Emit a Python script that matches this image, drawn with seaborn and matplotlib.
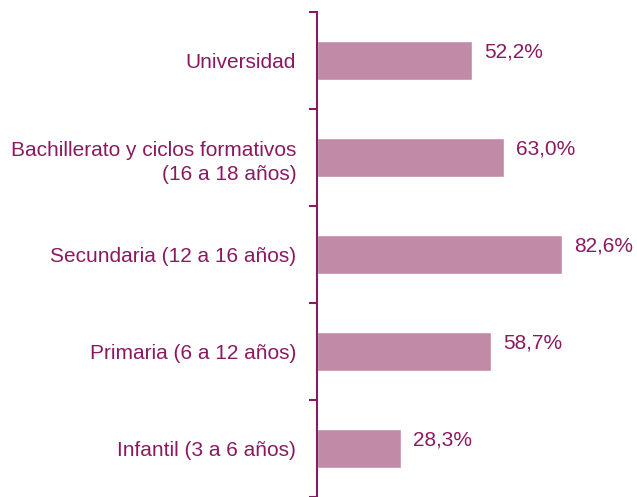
import numpy as np
import pandas as pd
import matplotlib
matplotlib.use("Agg")
import matplotlib.pyplot as plt
import seaborn as sns

categorias = ["Universidad",
              "Bachillerato y ciclos formativos\n(16 a 18 años)",
              "Secundaria (12 a 16 años)",
              "Primaria (6 a 12 años)",
              "Infantil (3 a 6 años)"]
valores = [52.2, 63.0, 82.6, 58.7, 28.3]
etiquetas = ["52,2%", "63,0%", "82,6%", "58,7%", "28,3%"]

color_barra = "#C18AA7"
color_texto = "#8A1A60"

sns.set_style("white")
plt.rcParams["font.family"] = ["Liberation Sans", "DejaVu Sans"]

df = pd.DataFrame({"nivel": categorias, "valor": valores})

fig = plt.figure(figsize=(6.37, 4.97), dpi=100)
ax = fig.add_axes([317 / 637, 0, 1 - 317 / 637, 1 - 12 / 497])

sns.barplot(data=df, x="valor", y="nivel", orient="h", color=color_barra,
            width=0.4, saturation=1, ax=ax)

for i, (v, t) in enumerate(zip(valores, etiquetas)):
    ax.annotate(t, xy=(v, i), xytext=(9, 6), textcoords="offset points",
                ha="left", va="center", fontsize=15, color=color_texto)

ax.set_xlim(0, 108)
ax.set_ylim(4.5, -0.5)
ax.set_xlabel("")
ax.set_ylabel("")
ax.set_xticks([])

# ticks del eje en los limites entre categorias
ax.set_yticks(np.arange(5))
ax.set_yticklabels(categorias, fontsize=15, color=color_texto, ha="right",
                   multialignment="right", linespacing=1.35)
ax.tick_params(axis="y", which="major", left=True, length=0, pad=15)
ax.set_yticks(np.arange(-0.5, 5, 1), minor=True)
ax.tick_params(axis="y", which="minor", left=True, length=6, width=1.5,
               color=color_texto, direction="out")

for s in ["top", "right", "bottom"]:
    ax.spines[s].set_visible(False)
ax.spines["left"].set_color(color_texto)
ax.spines["left"].set_linewidth(1.5)

fig.savefig("out.png", dpi=100)
